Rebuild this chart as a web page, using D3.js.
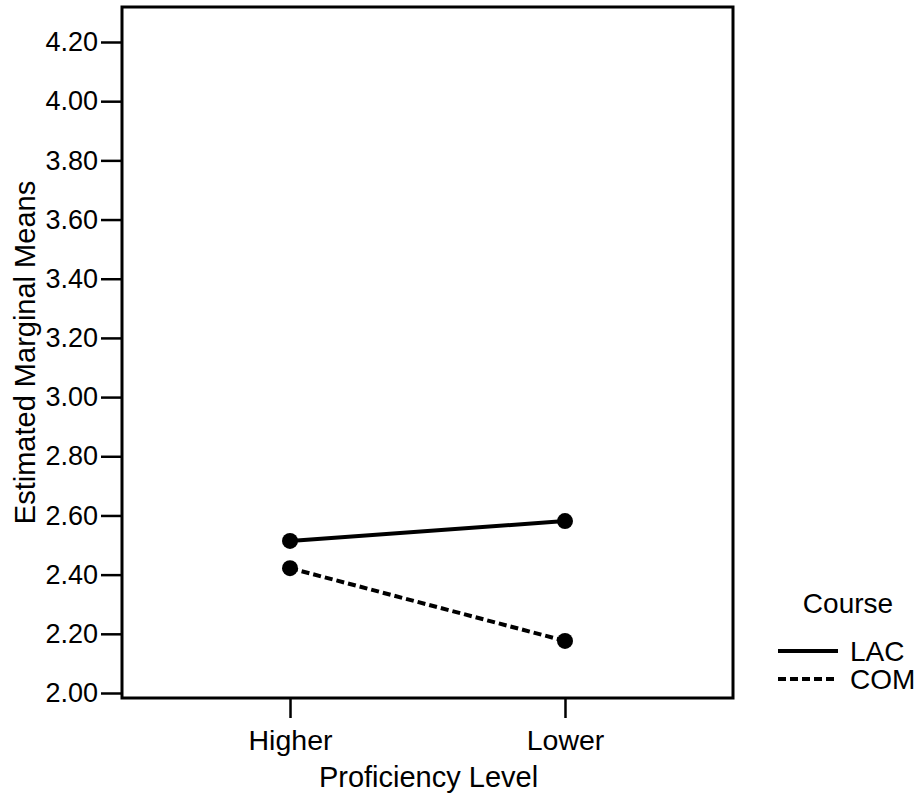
<!DOCTYPE html>
<html>
<head>
<meta charset="utf-8">
<script src="https://cdn.jsdelivr.net/npm/d3@7/dist/d3.min.js"></script>
<style>
  body { margin: 0; background: #fff; }
  text { font-family: "Liberation Sans", Arial, sans-serif; fill: #000; }
</style>
</head>
<body>
<script>
// data
var levels = ["Higher", "Lower"];
var courses = ["LAC", "COM"];
var lacMeans = [2.514, 2.581];
var comMeans = [2.422, 2.176];
var yTicks = [2.0, 2.2, 2.4, 2.6, 2.8, 3.0, 3.2, 3.4, 3.6, 3.8, 4.0, 4.2];

var w = 918, h = 794;
var box = { left: 122, top: 7, right: 733, bottom: 698 };

var svg = d3.select("body").append("svg")
  .attr("width", w)
  .attr("height", h);

var x = d3.scalePoint()
  .domain(levels)
  .range([box.left, box.right])
  .padding(0.611);

var y = d3.scaleLinear()
  .domain([2.0, 4.2])
  .range([693, 42]);

// frame
svg.append("rect")
  .attr("x", box.left)
  .attr("y", box.top)
  .attr("width", box.right - box.left)
  .attr("height", box.bottom - box.top)
  .attr("fill", "none")
  .attr("stroke", "#000")
  .attr("stroke-width", 3);

// y axis
var yAxis = svg.append("g")
  .attr("transform", "translate(" + box.left + ",0)")
  .call(d3.axisLeft(y).tickValues(yTicks).tickFormat(d3.format(".2f"))
    .tickSize(21).tickPadding(3));
yAxis.select(".domain").remove();
yAxis.selectAll("line").attr("stroke-width", 2.5);
yAxis.selectAll("text")
  .attr("font-size", 27)
  .attr("font-family", "Liberation Sans, Arial, sans-serif");

// x axis
var xAxis = svg.append("g")
  .attr("transform", "translate(0," + box.bottom + ")")
  .call(d3.axisBottom(x).tickSize(20).tickPadding(12));
xAxis.select(".domain").remove();
xAxis.selectAll("line").attr("stroke-width", 2.5);
xAxis.selectAll("text")
  .attr("font-size", 28.5)
  .attr("font-family", "Liberation Sans, Arial, sans-serif");

// axis titles
svg.append("text")
  .attr("x", (box.left + box.right) / 2 + 1)
  .attr("y", 787)
  .attr("text-anchor", "middle")
  .attr("font-size", 29)
  .text("Proficiency Level");

svg.append("text")
  .attr("transform", "translate(35," + ((box.top + box.bottom) / 2) + ") rotate(-90)")
  .attr("text-anchor", "middle")
  .attr("font-size", 29)
  .text("Estimated Marginal Means");

// series
var series = [
  { name: courses[0], values: lacMeans, dash: null },
  { name: courses[1], values: comMeans, dash: "8,4" }
];

var line = d3.line()
  .x((d, i) => x(levels[i]))
  .y(d => y(d));

series.forEach(s => {
  svg.append("path")
    .datum(s.values)
    .attr("d", line)
    .attr("fill", "none")
    .attr("stroke", "#000")
    .attr("stroke-width", 4)
    .attr("stroke-dasharray", s.dash);

  svg.selectAll(null)
    .data(s.values)
    .enter()
    .append("circle")
    .attr("cx", (d, i) => x(levels[i]))
    .attr("cy", d => y(d))
    .attr("r", 8)
    .attr("fill", "#000");
});

// legend
svg.append("text")
  .attr("x", 848)
  .attr("y", 613)
  .attr("text-anchor", "middle")
  .attr("font-size", 28)
  .text("Course");

series.forEach((s, i) => {
  var ly = 651 + i * 28;
  svg.append("line")
    .attr("x1", 778).attr("x2", 838)
    .attr("y1", ly).attr("y2", ly)
    .attr("stroke", "#000")
    .attr("stroke-width", 4)
    .attr("stroke-dasharray", s.dash);
  svg.append("text")
    .attr("x", 850)
    .attr("y", ly + 10)
    .attr("font-size", 28)
    .text(s.name);
});
</script>
</body>
</html>
